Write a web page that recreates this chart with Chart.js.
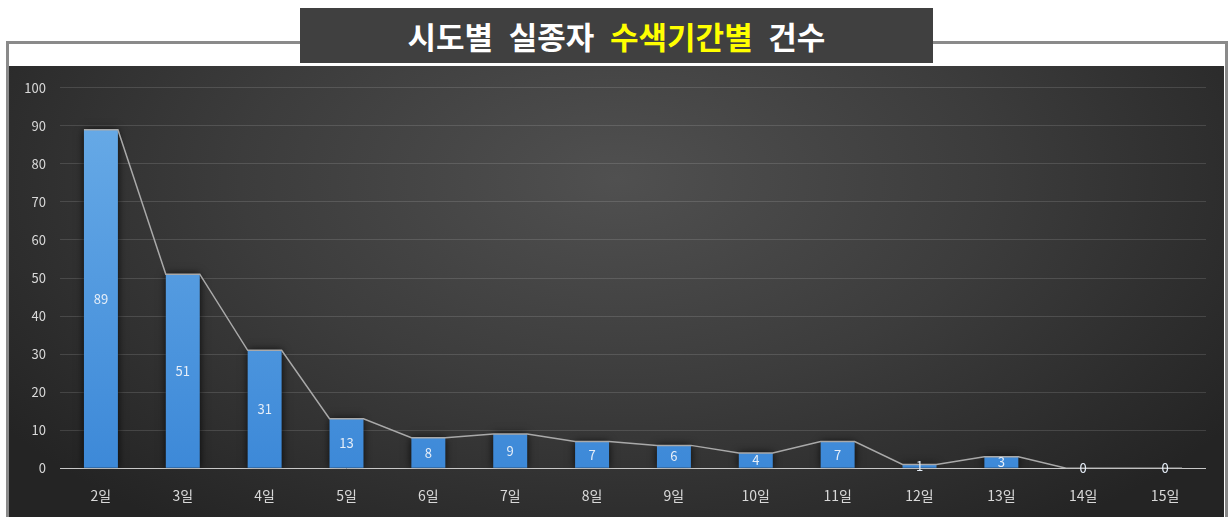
<!DOCTYPE html>
<html lang="ko">
<head>
<meta charset="utf-8">
<title>시도별 실종자 수색기간별 건수</title>
<script src="https://cdn.jsdelivr.net/npm/chart.js@4.4.1/dist/chart.umd.min.js"></script>
<style>
  html, body { margin: 0; padding: 0; background: #ffffff; width: 1228px; height: 517px; overflow: hidden; }
  #frame {
    position: absolute; left: 6px; top: 41px; width: 1216px; height: 480px;
    border: 3px solid #8a8a8a; border-bottom: none;
  }
  #plot {
    position: absolute; left: 9px; top: 66px; width: 1215px; height: 451px; overflow: hidden;
    background: radial-gradient(ellipse 62% 95% at 50% 25%, #505050 0%, #3c3c3c 50%, #242424 100%);
  }
  #title {
    position: absolute; left: 300px; top: 8px; width: 633px; height: 55px;
    background: #404040; color: #ffffff;
    font-family: "Noto Sans CJK KR", "Noto Sans", sans-serif; font-weight: 700;
    font-size: 31px; word-spacing: 7px; line-height: 55px; text-align: center;
  }
  #title .hl { color: #ffff00; }
  canvas { display: block; }
</style>
</head>
<body>
<div id="frame"></div>
<div id="plot"><canvas id="chart" width="1215" height="457"></canvas></div>
<div id="title">시도별 실종자 <span class="hl">수색기간별</span> 건수</div>
<script>
// search period categories and case counts
const periods = ['2일', '3일', '4일', '5일', '6일', '7일', '8일', '9일', '10일', '11일', '12일', '13일', '14일', '15일'];
const counts = [89, 51, 31, 13, 8, 9, 7, 6, 4, 7, 1, 3, 0, 0];
const yTicks = [0, 10, 20, 30, 40, 50, 60, 70, 80, 90, 100];

const BAR_SHARE = 0.415;          // bar width as a share of one category slot
const HALF = BAR_SHARE / 2;

// outline that runs along each bar top and down to the next one
const outline = [];
counts.forEach((v, i) => {
  outline.push({ x: i - HALF, y: v });
  outline.push({ x: i + HALF, y: v });
});

const labelFont = '"Noto Sans CJK KR", "Noto Sans", sans-serif';

// soft dark glow behind the bars
const barShadow = {
  id: 'barShadow',
  beforeDatasetDraw(chart, args) {
    if (args.index !== 0) return;
    const ctx = chart.ctx;
    ctx.save();
    ctx.shadowColor = 'rgba(0,0,0,0.8)';
    ctx.shadowBlur = 8;
    ctx.shadowOffsetX = 0;
    ctx.shadowOffsetY = 0;
  },
  afterDatasetDraw(chart, args) {
    if (args.index !== 0) return;
    chart.ctx.restore();
  }
};

// value label in the middle of each bar
const barValues = {
  id: 'barValues',
  afterDatasetsDraw(chart) {
    const meta = chart.getDatasetMeta(0);
    const ctx = chart.ctx;
    ctx.save();
    ctx.font = '13px ' + labelFont;
    ctx.fillStyle = '#e6eef8';
    ctx.textAlign = 'center';
    ctx.textBaseline = 'middle';
    meta.data.forEach((bar, i) => {
      const y = (bar.y + bar.base) / 2;
      ctx.fillText(String(counts[i]), bar.x, y);
    });
    ctx.restore();
  }
};

const ctx = document.getElementById('chart').getContext('2d');
const barFill = ctx.createLinearGradient(0, 60, 0, 401);
barFill.addColorStop(0, '#66a9e6');
barFill.addColorStop(1, '#3d89d8');

new Chart(ctx, {
  type: 'bar',
  data: {
    labels: periods,
    datasets: [
      {
        type: 'bar',
        data: counts,
        backgroundColor: barFill,
        borderWidth: 0,
        grouped: false,
        barPercentage: BAR_SHARE,
        categoryPercentage: 1,
        order: 2
      },
      {
        type: 'line',
        data: outline,
        xAxisID: 'xl',
        borderColor: '#a9a9a9',
        borderWidth: 1.5,
        pointRadius: 0,
        tension: 0,
        order: 1
      }
    ]
  },
  options: {
    responsive: false,
    animation: false,
    events: [],
    layout: { padding: { left: 0, right: 18, top: 19, bottom: 0 } },
    plugins: { legend: { display: false }, tooltip: { enabled: false } },
    scales: {
      x: {
        type: 'category',
        offset: true,
        grid: { display: false, drawTicks: false },
        border: { display: false },
        ticks: { color: '#d9d9d9', font: { family: labelFont, size: 14 }, padding: 19 }
      },
      xl: {
        type: 'linear',
        axis: 'x',
        position: 'bottom',
        display: false,
        offset: false,
        grid: { offset: false },
        min: -0.5,
        max: periods.length - 0.5
      },
      y: {
        min: 0,
        max: 100,
        afterBuildTicks(scale) { scale.ticks = yTicks.map(v => ({ value: v })); },
        afterFit(scale) { scale.width = 51; },
        grid: {
          drawTicks: false,
          lineWidth: 1,
          color: c => c.tick && c.tick.value === 0 ? '#c8c8c8' : 'rgba(255,255,255,0.13)'
        },
        border: { display: false },
        ticks: { color: '#d9d9d9', font: { family: labelFont, size: 13 }, padding: 14 }
      }
    }
  },
  plugins: [barShadow, barValues]
});
</script>
</body>
</html>
